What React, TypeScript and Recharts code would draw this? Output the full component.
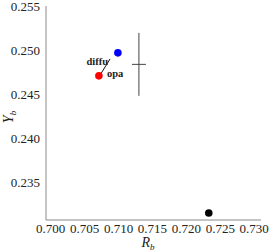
import { ScatterChart, Scatter, XAxis, YAxis, ErrorBar, ReferenceLine } from 'recharts'

const xMajor = [0.7, 0.705, 0.71, 0.715, 0.72, 0.725, 0.73]
const xMinor = [0.701, 0.702, 0.703, 0.704, 0.706, 0.707, 0.708, 0.709, 0.711, 0.712, 0.713, 0.714, 0.716, 0.717, 0.718, 0.719, 0.721, 0.722, 0.723, 0.724, 0.726, 0.727, 0.728, 0.729]
const yMajor = [0.235, 0.24, 0.245, 0.25, 0.255]
const yMinor = [0.231, 0.232, 0.233, 0.234, 0.236, 0.237, 0.238, 0.239, 0.241, 0.242, 0.243, 0.244, 0.246, 0.247, 0.248, 0.249, 0.251, 0.252, 0.253, 0.254]

const diffuPoint = [{ x: 0.7099, y: 0.2497 }]
const opaPoint = [{ x: 0.7071, y: 0.2471 }]
const blackPoint = [{ x: 0.7233, y: 0.2316 }]
const measured = [{ x: 0.7130, y: 0.2484, ex: 0.00103, ey: 0.00356 }]

const arrowFrom = { x: 0.70874, y: 0.24901 }
const arrowTo = { x: 0.70735, y: 0.24728 }
const labels = [
  { x: 0.70845, y: 0.24878, text: 'diffu', anchor: 'end' },
  { x: 0.70829, y: 0.24742, text: 'opa', anchor: 'start' },
]

const XD: [number, number] = [0.6993, 0.731]
const YD: [number, number] = [0.2308, 0.255]
const FRAME = '#8a8a8a'
const FONT = 'Liberation Serif, Times New Roman, serif'
const noTick = () => <g />

const Dot = (color: string) => (p: any) => <circle cx={p.cx} cy={p.cy} r={3.8} fill={color} />

export default function App() {
  return (
    <div style={{ position: 'absolute', left: 0, top: 0, background: '#fff', fontFamily: FONT }}>
      <ScatterChart width={271} height={251} margin={{ top: 6, right: 10, bottom: 0, left: 0 }} style={{ fontFamily: FONT }}>
        <XAxis xAxisId="b" type="number" dataKey="x" domain={XD} ticks={xMajor} allowDataOverflow interval={0}
          height={31} tickLine={false} axisLine={{ stroke: FRAME }}
          tick={{ fontSize: 13, fill: '#222', fontFamily: FONT }} tickFormatter={(v) => v.toFixed(3)} tickMargin={-2}
          label={{ content: () => (
            <text x={148} y={247} textAnchor="middle" fontFamily={FONT} fontSize={14} fill="#222">
              <tspan fontStyle="italic">R</tspan><tspan fontSize={9} dy={3} fontStyle="italic">b</tspan>
            </text>
          ) }} />
        <XAxis xAxisId="bmaj" type="number" dataKey="x" domain={XD} ticks={xMajor} orientation="bottom" mirror height={0} interval={0}
          axisLine={false} tickSize={3} tickLine={{ stroke: FRAME }} tick={noTick} />
        <XAxis xAxisId="bmin" type="number" dataKey="x" domain={XD} ticks={xMinor} orientation="bottom" mirror height={0} interval={0}
          axisLine={false} tickSize={1.5} tickLine={{ stroke: FRAME }} tick={noTick} />
        <XAxis xAxisId="tmaj" type="number" dataKey="x" domain={XD} ticks={xMajor} orientation="top" mirror height={0} interval={0}
          axisLine={{ stroke: FRAME }} tickSize={3} tickLine={{ stroke: FRAME }} tick={noTick} />
        <XAxis xAxisId="tmin" type="number" dataKey="x" domain={XD} ticks={xMinor} orientation="top" mirror height={0} interval={0}
          axisLine={false} tickSize={1.5} tickLine={{ stroke: FRAME }} tick={noTick} />

        <YAxis yAxisId="l" type="number" dataKey="y" domain={YD} ticks={yMajor} allowDataOverflow interval={0}
          width={46} tickLine={false} axisLine={{ stroke: FRAME }}
          tick={{ fontSize: 13, fill: '#222', fontFamily: FONT }} tickFormatter={(v) => v.toFixed(3)} tickMargin={0}
          label={{ content: () => (
            <text x={0} y={0} transform="translate(13,117) rotate(-90)" textAnchor="middle" fontFamily={FONT} fontSize={14} fill="#222">
              <tspan fontStyle="italic">Y</tspan><tspan fontSize={9} dy={3} fontStyle="italic">b</tspan>
            </text>
          ) }} />
        <YAxis yAxisId="lmaj" type="number" dataKey="y" domain={YD} ticks={yMajor} orientation="left" mirror width={0} interval={0}
          axisLine={false} tickSize={3} tickLine={{ stroke: FRAME }} tick={noTick} />
        <YAxis yAxisId="lmin" type="number" dataKey="y" domain={YD} ticks={yMinor} orientation="left" mirror width={0} interval={0}
          axisLine={false} tickSize={1.5} tickLine={{ stroke: FRAME }} tick={noTick} />
        <YAxis yAxisId="rmaj" type="number" dataKey="y" domain={YD} ticks={yMajor} orientation="right" mirror width={0} interval={0}
          axisLine={{ stroke: FRAME, strokeWidth: 1.5 }} tickSize={3} tickLine={{ stroke: FRAME }} tick={noTick} />
        <YAxis yAxisId="rmin" type="number" dataKey="y" domain={YD} ticks={yMinor} orientation="right" mirror width={0} interval={0}
          axisLine={false} tickSize={1.5} tickLine={{ stroke: FRAME }} tick={noTick} />

        <Scatter xAxisId="b" yAxisId="l" data={measured} isAnimationActive={false} shape={noTick}>
          <ErrorBar dataKey="ex" direction="x" width={0} stroke="#444" strokeWidth={1} />
          <ErrorBar dataKey="ey" direction="y" width={0} stroke="#444" strokeWidth={1} />
        </Scatter>
        <ReferenceLine xAxisId="b" yAxisId="l" segment={[arrowFrom, arrowTo]} stroke="#111" strokeWidth={1} ifOverflow="visible" />
        <Scatter xAxisId="b" yAxisId="l" data={diffuPoint} isAnimationActive={false} shape={Dot('#0000ff')} />
        <Scatter xAxisId="b" yAxisId="l" data={opaPoint} isAnimationActive={false} shape={Dot('#ff0000')} />
        <Scatter xAxisId="b" yAxisId="l" data={blackPoint} isAnimationActive={false} shape={Dot('#000')} />
        <Scatter xAxisId="b" yAxisId="l" data={labels} isAnimationActive={false}
          shape={(p: any) => (
            <text x={p.cx} y={p.cy} dy={3.5} textAnchor={p.payload.anchor} fontFamily={FONT} fontWeight="bold" fontSize={10.5} fill="#222">
              {p.payload.text}
            </text>
          )} />
      </ScatterChart>
    </div>
  )
}
